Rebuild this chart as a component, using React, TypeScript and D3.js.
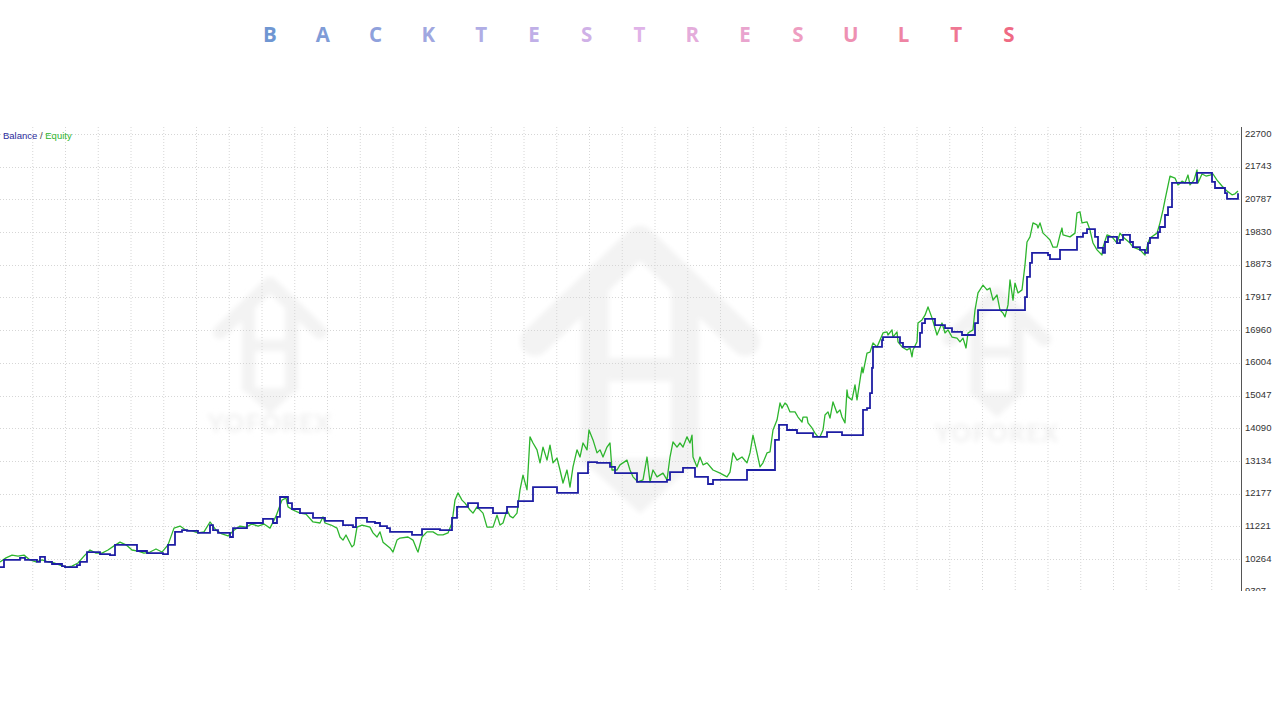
import React from 'react';
import * as d3 from 'd3';

// title letters, spaced out across the top
const titleLetters = 'BACKTESTRESULTS'.split('');

// y axis tick labels (account currency)
const yTicks = [22700, 21743, 20787, 19830, 18873, 17917, 16960, 16004, 15047, 14090, 13134, 12177, 11221, 10264, 9307];

// balance: [bar, value] at each change
const balance: [number, number][] = [
  [0, 10030], [4, 10240], [20, 10300], [25, 10240], [37, 10180], [40, 10330], [45, 10180], [52, 10120],
  [62, 10060], [65, 10030], [77, 10090], [80, 10180], [87, 10470], [100, 10410], [110, 10380], [115, 10680],
  [137, 10500], [147, 10440], [163, 10410], [168, 10680], [175, 11060], [182, 11110], [187, 11090], [198, 11030],
  [210, 11260], [213, 11110], [218, 11030], [230, 10910], [233, 11170], [247, 11320], [263, 11440], [273, 11320],
  [277, 11500], [280, 12080], [288, 11900], [292, 11730], [300, 11610], [313, 11470], [325, 11380], [343, 11260],
  [353, 11200], [356, 11470], [367, 11350], [375, 11320], [380, 11230], [387, 11170], [390, 11060], [412, 10970],
  [422, 11140], [440, 11110], [452, 11470], [457, 11790], [468, 11900], [478, 11760], [493, 11610], [507, 11790],
  [518, 11960], [533, 12370], [557, 12200], [578, 12780], [588, 13100], [597, 13080], [610, 12960], [615, 12780],
  [637, 12520], [667, 12580], [670, 12810], [683, 12930], [695, 12670], [708, 12460], [713, 12580], [747, 12870],
  [775, 13750], [779, 14190], [787, 14040], [797, 13950], [813, 13840], [827, 13980], [842, 13890], [863, 14630],
  [867, 14680], [870, 15120], [872, 15860], [873, 16470], [882, 16670], [883, 16760], [900, 16590], [903, 16470],
  [920, 16880], [922, 17170], [925, 17290], [935, 17110], [945, 17020], [952, 16910], [962, 16820], [975, 17170],
  [978, 17550], [1025, 17930], [1027, 18520], [1030, 18930], [1032, 19220], [1048, 19160], [1050, 19040], [1060, 19310],
  [1077, 19690], [1083, 19800], [1087, 19920], [1095, 19690], [1098, 19370], [1103, 19220], [1105, 19540], [1108, 19690],
  [1117, 19510], [1120, 19600], [1123, 19750], [1130, 19540], [1133, 19390], [1140, 19310], [1145, 19220], [1148, 19510],
  [1150, 19660], [1158, 19830], [1160, 19980], [1165, 20330], [1168, 20560], [1172, 21270], [1197, 21560], [1212, 21300],
  [1215, 21120], [1225, 20970], [1227, 20800], [1237, 20800], [1238, 20970],
];

// equity: [bar, value]
const equity: [number, number][] = [
  [0, 10180], [6, 10300], [12, 10380], [18, 10350], [24, 10380], [30, 10240], [36, 10180], [42, 10240], [48, 10180],
  [54, 10150], [60, 10090], [66, 10030], [72, 10060], [78, 10150], [84, 10350], [90, 10530], [96, 10440], [102, 10440],
  [108, 10530], [114, 10650], [120, 10760], [126, 10680], [132, 10530], [138, 10500], [144, 10440], [150, 10470],
  [156, 10560], [162, 10470], [168, 10680], [174, 11170], [180, 11230], [186, 11110], [192, 11090], [198, 11030],
  [204, 11060], [210, 11350], [216, 11110], [222, 11000], [228, 10940], [234, 11110], [240, 11230], [246, 11200],
  [252, 11290], [258, 11230], [264, 11290], [270, 11170], [276, 11520], [282, 11990], [286, 12050],
  [288, 11790], [293, 11700], [300, 11610], [306, 11580], [313, 11350], [320, 11320], [323, 11500], [325, 11320],
  [331, 11260], [337, 11170], [340, 10910], [343, 10820], [346, 10970], [352, 10620], [354, 10680], [357, 11200],
  [362, 11260], [370, 11200], [373, 11030], [377, 10910], [380, 11060], [383, 10760], [390, 10590], [393, 10470],
  [397, 10820], [400, 10880], [408, 10910], [413, 10820], [417, 10530], [418, 10470], [422, 10910], [427, 11060],
  [433, 11060], [438, 10970], [443, 10970], [448, 11030], [452, 11320], [455, 11990], [458, 12200], [462, 11990],
  [465, 11900], [470, 11700], [473, 11610], [477, 11790], [483, 11610], [487, 11200], [493, 11200], [497, 11550],
  [500, 11260], [503, 11320], [507, 11700], [510, 11520], [513, 11470], [517, 11610], [520, 12290], [523, 12720],
  [527, 12290], [530, 13840], [533, 13660], [537, 13460], [540, 13080], [543, 13540], [547, 13160], [550, 13600],
  [553, 13080], [557, 13220], [560, 12870], [563, 12490], [567, 12870], [570, 12370], [573, 12960], [577, 13460],
  [580, 13250], [583, 13660], [587, 13460], [589, 14040], [593, 13750], [597, 13370], [600, 13460], [603, 13250],
  [607, 13540], [610, 13660], [612, 12870], [617, 12870], [620, 13020], [627, 13160], [630, 12870], [633, 12670],
  [638, 12520], [643, 12580], [647, 13250], [650, 12520], [653, 12870], [657, 12670], [663, 12780], [667, 12580],
  [670, 13250], [673, 13690], [677, 13540], [680, 13660], [683, 13540], [687, 13840], [690, 13660], [692, 13890],
  [693, 13250], [697, 12960], [700, 13250], [703, 13020], [707, 13080], [713, 12870], [720, 12780], [727, 12670],
  [730, 12810], [733, 13370], [737, 13160], [742, 13250], [747, 13080], [750, 13370], [753, 13890], [757, 13370],
  [760, 12960], [763, 13080], [767, 13370], [770, 13400], [773, 14040], [777, 14330], [780, 14830],
  [782, 14680], [785, 14830], [787, 14770], [790, 14570], [795, 14570], [798, 14420], [802, 14270], [803, 14420],
  [807, 14420], [808, 14250], [812, 14100], [815, 13950], [818, 13840], [820, 13840], [823, 14040], [825, 14480],
  [828, 14570], [830, 14390], [833, 14860], [837, 14540], [840, 14630], [842, 14420], [845, 14250], [847, 15210],
  [848, 15010], [852, 14920], [855, 15360], [857, 14920], [860, 15500], [862, 15880], [863, 15710], [867, 16290],
  [870, 16320], [873, 16590], [877, 16470], [880, 16670], [883, 16880], [887, 16910], [888, 16820], [892, 16970],
  [893, 16760], [897, 16910], [898, 16620], [902, 16470], [907, 16380], [910, 16440], [912, 16180], [913, 16380],
  [917, 16620], [918, 17170], [922, 17260], [925, 17400], [928, 17640], [932, 17320], [937, 16820], [942, 17170],
  [945, 16880], [948, 16970], [952, 16760], [957, 16730], [960, 16620], [963, 16730], [966, 16440], [968, 16880],
  [973, 16970], [975, 17550], [978, 18050],
  [983, 18280], [987, 18140], [990, 18190], [993, 17840], [997, 17990], [1000, 17550], [1003, 17460], [1005, 17350],
  [1008, 17700], [1010, 18430], [1013, 17840], [1015, 18340], [1018, 18050], [1022, 18140], [1025, 18870], [1027, 19540],
  [1030, 19690], [1033, 20100], [1037, 20040], [1038, 19950], [1040, 20100], [1043, 19800], [1047, 19690], [1050, 19600],
  [1053, 19390], [1057, 19390], [1060, 19750], [1062, 19950], [1063, 19750], [1070, 19690], [1075, 19800], [1077, 20390],
  [1080, 20420], [1082, 20100], [1087, 20130], [1090, 19890], [1093, 19510], [1097, 19310], [1102, 19160], [1103, 19390],
  [1107, 19750], [1112, 19690], [1117, 19510], [1120, 19800], [1123, 19690], [1130, 19510], [1133, 19390], [1140, 19310],
  [1145, 19160], [1148, 19510], [1150, 19660], [1157, 19800], [1160, 20100], [1163, 20480], [1165, 20770], [1170, 21470],
  [1175, 21410], [1178, 21210], [1182, 21320], [1185, 21270], [1188, 21500], [1190, 21210], [1194, 21350], [1197, 21650],
  [1198, 21270], [1202, 21530], [1206, 21470], [1210, 21500], [1213, 21530], [1217, 21350], [1222, 21180], [1227, 21030],
  [1232, 20920], [1235, 20950], [1238, 21030],
];

const W = 1280;
const H = 720;
const plotTop = 127;
const plotBottom = 591;
const axisX = 1241;
const gridStep = 32.75; // bars between vertical grid lines

const BLUE = '#1e1ea4';
const GREEN = '#2db52d';
const WM = '#f3f3f3';

const Watermark: React.FC<{ cx: number; top: number; s: number; label?: boolean }> = ({ cx, top, s, label }) => (
  <g filter="url(#wmBlur)">
    <g transform={`translate(${cx},${top}) scale(${s})`} fill={WM} stroke={WM}>
      <polyline points="-50,52 0,4 50,52" fill="none" strokeWidth={14} strokeLinejoin="round" strokeLinecap="round" />
      <rect x={-28} y={24} width={13} height={88} rx={4} stroke="none" />
      <rect x={15} y={24} width={13} height={88} rx={4} stroke="none" />
      <rect x={-15} y={60} width={30} height={11} stroke="none" />
      <path d="M-28,108 L0,134 L28,108 Z" stroke="none" />
    </g>
    {label && (
      <text x={cx} y={top + 152} textAnchor="middle" fontFamily="Lato, sans-serif" fontWeight={900}
        fontSize={25} fill="#f1f1f1" letterSpacing={1}>YOFOREX</text>
    )}
  </g>
);

export default function App() {
  const x = d3.scaleLinear().domain([0, 1238]).range([0, 1238]);
  const y = d3.scaleLinear()
    .domain([yTicks[yTicks.length - 1], yTicks[0]])
    .range([134 + 32.7 * (yTicks.length - 1), 134]);

  const titleX = d3.scalePoint<number>().domain(d3.range(titleLetters.length)).range([270, 1009]);
  const titleColor = d3.scaleLinear<string>()
    .domain([0, 0.3, 0.5, 0.72, 1])
    .range(['#6f96d2', '#b3aee6', '#dfb3e8', '#ee9cc0', '#ef6a84'])
    .interpolate(d3.interpolateRgb);

  const line = d3.line<[number, number]>().x(d => x(d[0])).y(d => y(d[1]));
  const stepLine = d3.line<[number, number]>().x(d => x(d[0])).y(d => y(d[1])).curve(d3.curveStepAfter);

  const vGrid = d3.range(gridStep, 1239, gridStep);

  return (
    <svg width={W} height={H} style={{ position: 'absolute', left: 0, top: 0, background: '#fff' }}>
      <defs>
        <clipPath id="chartClip">
          <rect x={0} y={plotTop} width={W} height={plotBottom - plotTop} />
        </clipPath>
        <clipPath id="plotClip">
          <rect x={0} y={plotTop} width={axisX - 1} height={plotBottom - plotTop} />
        </clipPath>
        <filter id="wmBlur" x="-20%" y="-20%" width="140%" height="140%">
          <feGaussianBlur stdDeviation={2.5} />
        </filter>
      </defs>

      {titleLetters.map((ch, i) => (
        <text key={i} x={titleX(i)} y={42} textAnchor="middle" fontFamily="'Open Sans', sans-serif"
          fontWeight={700} fontSize={20.5} fill={titleColor(i / (titleLetters.length - 1))}>{ch}</text>
      ))}

      <g clipPath="url(#chartClip)">
        <Watermark cx={270} top={280} s={1} label />
        <Watermark cx={640} top={232} s={2.1} />
        <Watermark cx={997} top={290} s={0.95} label />

        {vGrid.map((g, i) => (
          <line key={'v' + i} x1={x(g)} x2={x(g)} y1={plotTop} y2={plotBottom} stroke="#d6d6d6"
            strokeWidth={1} strokeDasharray="1,2" />
        ))}
        {yTicks.map(t => (
          <line key={'h' + t} x1={0} x2={axisX} y1={Math.round(y(t)) + 0.5} y2={Math.round(y(t)) + 0.5}
            stroke="#d6d6d6" strokeWidth={1} strokeDasharray="1,2" />
        ))}

        <g clipPath="url(#plotClip)">
          <path d={line(equity) ?? ''} fill="none" stroke={GREEN} strokeWidth={1.3} strokeLinejoin="round" />
          <path d={stepLine(balance) ?? ''} fill="none" stroke={BLUE} strokeWidth={1.8} />
        </g>

        <line x1={axisX + 0.5} x2={axisX + 0.5} y1={plotTop} y2={plotBottom} stroke="#555" strokeWidth={1} />
        {yTicks.map(t => (
          <text key={'t' + t} x={axisX + 4} y={y(t)} dominantBaseline="middle" fontFamily="'Liberation Sans', Arial, sans-serif"
            fontSize={9.5} fill="#333">{t}</text>
        ))}

        <text x={3} y={139} fontFamily="'Liberation Sans', Arial, sans-serif" fontSize={9.5}>
          <tspan fill="#2c2c9c">Balance</tspan>
          <tspan fill="#444"> / </tspan>
          <tspan fill={GREEN}>Equity</tspan>
        </text>
      </g>
    </svg>
  );
}
